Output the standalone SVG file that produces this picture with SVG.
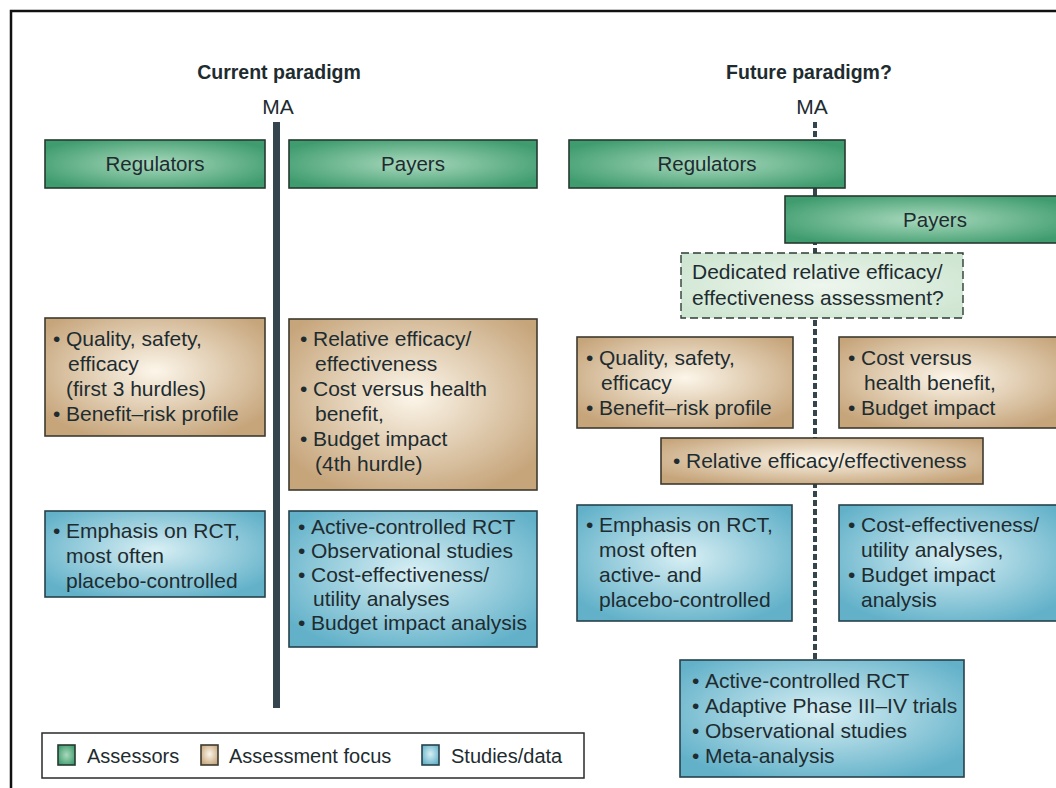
<svg xmlns="http://www.w3.org/2000/svg" width="1056" height="788" viewBox="0 0 1056 788">
<defs>
<radialGradient id="gGreen" cx="0.5" cy="0.5" r="0.6">
<stop offset="0" stop-color="#a9d9bd"/>
<stop offset="1" stop-color="#3f9c6e"/>
</radialGradient>
<radialGradient id="gBeige" cx="0.5" cy="0.45" r="0.62">
<stop offset="0" stop-color="#fcf6ea"/>
<stop offset="1" stop-color="#c6a57b"/>
</radialGradient>
<radialGradient id="gBlue" cx="0.5" cy="0.45" r="0.62">
<stop offset="0" stop-color="#d8eff4"/>
<stop offset="1" stop-color="#62b1c9"/>
</radialGradient>
<radialGradient id="gDash" cx="0.5" cy="0.5" r="0.6">
<stop offset="0" stop-color="#eef6ee"/>
<stop offset="1" stop-color="#cfe6d2"/>
</radialGradient>
</defs>
<style>
text{font-family:"Liberation Sans",Arial,sans-serif;fill:#1e2c30;}
.t{font-size:19.5px;font-weight:700;text-anchor:middle;}
.ma{font-size:21px;text-anchor:middle;}
.h{font-size:20.5px;text-anchor:middle;}
.b{font-size:21px;}
.lg{font-size:20px;}
.green{fill:url(#gGreen);stroke:#263a30;stroke-width:1.6;}
.beige{fill:url(#gBeige);stroke:#3e3a30;stroke-width:1.6;}
.blue{fill:url(#gBlue);stroke:#27424c;stroke-width:1.6;}
.dash{fill:url(#gDash);stroke:#2e3d35;stroke-width:1.4;stroke-dasharray:8 4;}
</style>
<rect x="0" y="0" width="1056" height="788" fill="#ffffff"/>
<path d="M11 788 V11 H1056" fill="none" stroke="#111" stroke-width="2.5"/>

<g id="titles">
<text class="t" x="279" y="79">Current paradigm</text>
<text class="ma" x="278" y="114">MA</text>
<text class="t" x="809" y="79">Future paradigm?</text>
<text class="ma" x="812" y="114">MA</text>
</g>

<g id="connectors">
<rect x="273" y="122" width="7" height="586" fill="#34454d"/>
<line x1="815" y1="122" x2="815" y2="660" stroke="#34454d" stroke-width="4" stroke-dasharray="6 3"/>
<line x1="815" y1="186" x2="815" y2="198" stroke="#34454d" stroke-width="4"/>
</g>

<g id="reg-current">
<rect class="green" x="45" y="140" width="220" height="48"/>
<text class="h" x="155" y="171">Regulators</text>
</g>
<g id="pay-current">
<rect class="green" x="289" y="140" width="248" height="48"/>
<text class="h" x="413" y="171">Payers</text>
</g>

<g id="focus-reg-current">
<rect class="beige" x="45" y="318" width="220" height="118"/>
<text class="b"><tspan x="53" y="346">•</tspan><tspan x="66" y="346">Quality, safety,</tspan><tspan x="68" y="371">efficacy</tspan><tspan x="66" y="396">(first 3 hurdles)</tspan><tspan x="53" y="421">•</tspan><tspan x="66" y="421">Benefit–risk profile</tspan></text>
</g>
<g id="focus-pay-current">
<rect class="beige" x="289" y="319" width="248" height="171"/>
<text class="b"><tspan x="300" y="346">•</tspan><tspan x="313" y="346">Relative efficacy/</tspan><tspan x="315" y="371">effectiveness</tspan><tspan x="300" y="396">•</tspan><tspan x="313" y="396">Cost versus health</tspan><tspan x="315" y="421">benefit,</tspan><tspan x="300" y="446">•</tspan><tspan x="313" y="446">Budget impact</tspan><tspan x="315" y="471">(4th hurdle)</tspan></text>
</g>

<g id="data-reg-current">
<rect class="blue" x="45" y="511" width="220" height="86"/>
<text class="b"><tspan x="53" y="538">•</tspan><tspan x="66" y="538">Emphasis on RCT,</tspan><tspan x="66" y="563">most often</tspan><tspan x="66" y="588">placebo-controlled</tspan></text>
</g>
<g id="data-pay-current">
<rect class="blue" x="289" y="511" width="248" height="136"/>
<text class="b"><tspan x="298" y="534">•</tspan><tspan x="311" y="534">Active-controlled RCT</tspan><tspan x="298" y="558">•</tspan><tspan x="311" y="558">Observational studies</tspan><tspan x="298" y="582">•</tspan><tspan x="311" y="582">Cost-effectiveness/</tspan><tspan x="313" y="606">utility analyses</tspan><tspan x="298" y="630">•</tspan><tspan x="311" y="630">Budget impact analysis</tspan></text>
</g>

<g id="reg-future">
<rect class="green" x="569" y="140" width="276" height="48"/>
<text class="h" x="707" y="171">Regulators</text>
</g>
<g id="pay-future">
<rect class="green" x="785" y="196" width="280" height="47"/>
<text class="h" x="935" y="227">Payers</text>
</g>
<g id="rea-future">
<rect class="dash" x="681" y="253" width="282" height="65"/>
<text class="b"><tspan x="692" y="279">Dedicated relative efficacy/</tspan><tspan x="692" y="305">effectiveness assessment?</tspan></text>
</g>

<g id="focus-reg-future">
<rect class="beige" x="577" y="337" width="216" height="91"/>
<text class="b"><tspan x="586" y="365">•</tspan><tspan x="599" y="365">Quality, safety,</tspan><tspan x="601" y="390">efficacy</tspan><tspan x="586" y="415">•</tspan><tspan x="599" y="415">Benefit–risk profile</tspan></text>
</g>
<g id="focus-pay-future">
<rect class="beige" x="839" y="337" width="225" height="91"/>
<text class="b"><tspan x="848" y="365">•</tspan><tspan x="861" y="365">Cost versus</tspan><tspan x="864" y="390">health benefit,</tspan><tspan x="848" y="415">•</tspan><tspan x="861" y="415">Budget impact</tspan></text>
</g>
<g id="focus-rel-future">
<rect class="beige" x="661" y="438" width="322" height="46"/>
<text class="b"><tspan x="673" y="468">•</tspan><tspan x="686" y="468">Relative efficacy/effectiveness</tspan></text>
</g>

<g id="data-reg-future">
<rect class="blue" x="577" y="505" width="215" height="116"/>
<text class="b"><tspan x="586" y="532">•</tspan><tspan x="599" y="532">Emphasis on RCT,</tspan><tspan x="599" y="557">most often</tspan><tspan x="599" y="582">active- and</tspan><tspan x="599" y="607">placebo-controlled</tspan></text>
</g>
<g id="data-pay-future">
<rect class="blue" x="839" y="505" width="225" height="116"/>
<text class="b"><tspan x="848" y="532">•</tspan><tspan x="861" y="532">Cost-effectiveness/</tspan><tspan x="861" y="557">utility analyses,</tspan><tspan x="848" y="582">•</tspan><tspan x="861" y="582">Budget impact</tspan><tspan x="861" y="607">analysis</tspan></text>
</g>
<g id="data-future">
<rect class="blue" x="680" y="660" width="284" height="117"/>
<text class="b"><tspan x="692" y="688">•</tspan><tspan x="705" y="688">Active-controlled RCT</tspan><tspan x="692" y="713">•</tspan><tspan x="705" y="713">Adaptive Phase III–IV trials</tspan><tspan x="692" y="738">•</tspan><tspan x="705" y="738">Observational studies</tspan><tspan x="692" y="763">•</tspan><tspan x="705" y="763">Meta-analysis</tspan></text>
</g>

<g id="legend">
<rect x="42" y="733" width="542" height="45" fill="#fff" stroke="#2a2a2a" stroke-width="1.5"/>
<rect class="green" x="58" y="745" width="17" height="20"/>
<text class="lg" x="87" y="763">Assessors</text>
<rect class="beige" x="201" y="745" width="17" height="20"/>
<text class="lg" x="229" y="763">Assessment focus</text>
<rect class="blue" x="422" y="745" width="17" height="20"/>
<text class="lg" x="451" y="763">Studies/data</text>
</g>
</svg>
